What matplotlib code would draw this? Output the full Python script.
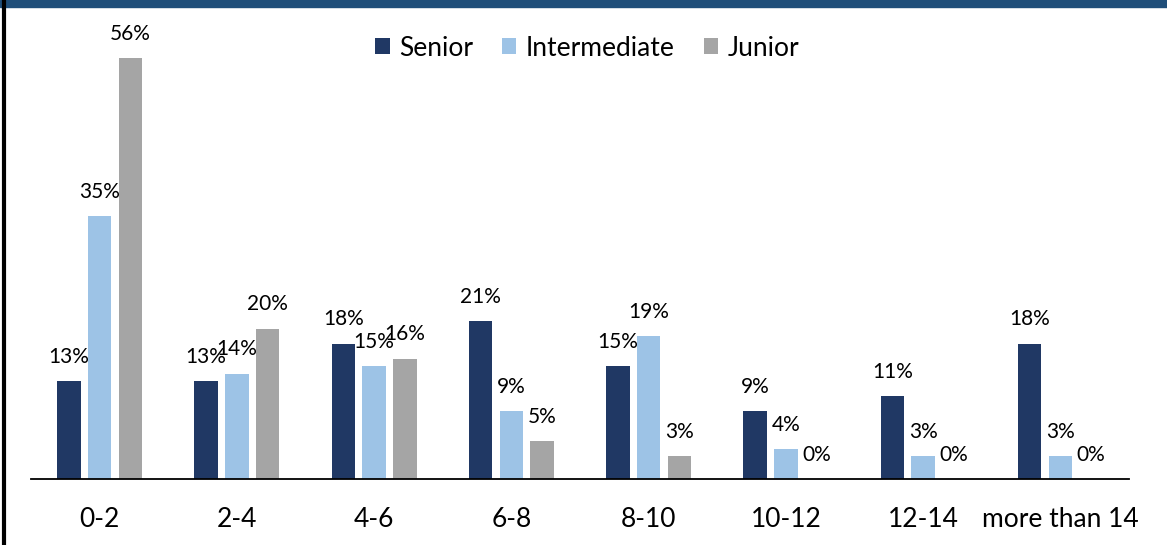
import numpy as np
import matplotlib
matplotlib.use("Agg")
import matplotlib.pyplot as plt
from matplotlib.patches import Rectangle

plt.rcParams["font.family"] = ["Lato", "DejaVu Sans"]

categories = ["0-2", "2-4", "4-6", "6-8", "8-10", "10-12", "12-14", "more than 14"]
senior = [13, 13, 18, 21, 15, 9, 11, 18]
intermediate = [35, 14, 15, 9, 19, 4, 3, 3]
junior = [56, 20, 16, 5, 3, 0, 0, 0]

series = [("Senior", senior, "#203864"),
          ("Intermediate", intermediate, "#9dc3e6"),
          ("Junior", junior, "#a5a5a5")]

fig = plt.figure(figsize=(11.67, 5.45), dpi=100)

# title band (title text cut off above the image) and left frame line
fig.patches.append(Rectangle((0, 1 - 7 / 545), 1, 7 / 545, transform=fig.transFigure,
                             color="#1f4e79", zorder=0))
fig.add_artist(plt.Line2D([4 / 1167, 4 / 1167], [0, 1], transform=fig.transFigure,
                          color="black", linewidth=3))

ax = fig.add_axes([31 / 1167, 66 / 545, 1098 / 1167, 451 / 545])

x = np.arange(len(categories))
width = 0.172
offset = 0.224

for i, (name, vals, color) in enumerate(series):
    pos = x + (i - 1) * offset
    ax.bar(pos, vals, width, color=color, label=name)
    for p, v in zip(pos, vals):
        ax.text(p, v + 1.9, f"{v}%", ha="center", va="bottom", fontsize=15)

ax.set_xlim(-0.5, len(categories) - 0.5)
ax.set_ylim(0, 60)
ax.set_xticks(x)
ax.set_xticklabels(categories, fontsize=19)
ax.tick_params(axis="x", length=0, pad=20)
ax.set_yticks([])
for side in ["top", "right", "left"]:
    ax.spines[side].set_visible(False)
ax.spines["bottom"].set_linewidth(1.3)

fig.legend(loc="center", bbox_to_anchor=(587 / 1167, 1 - 48 / 545), ncol=3, frameon=False,
           fontsize=19, handlelength=0.55, handleheight=0.55, handletextpad=0.35,
           columnspacing=1.1)

fig.savefig("out.png", dpi=100)
